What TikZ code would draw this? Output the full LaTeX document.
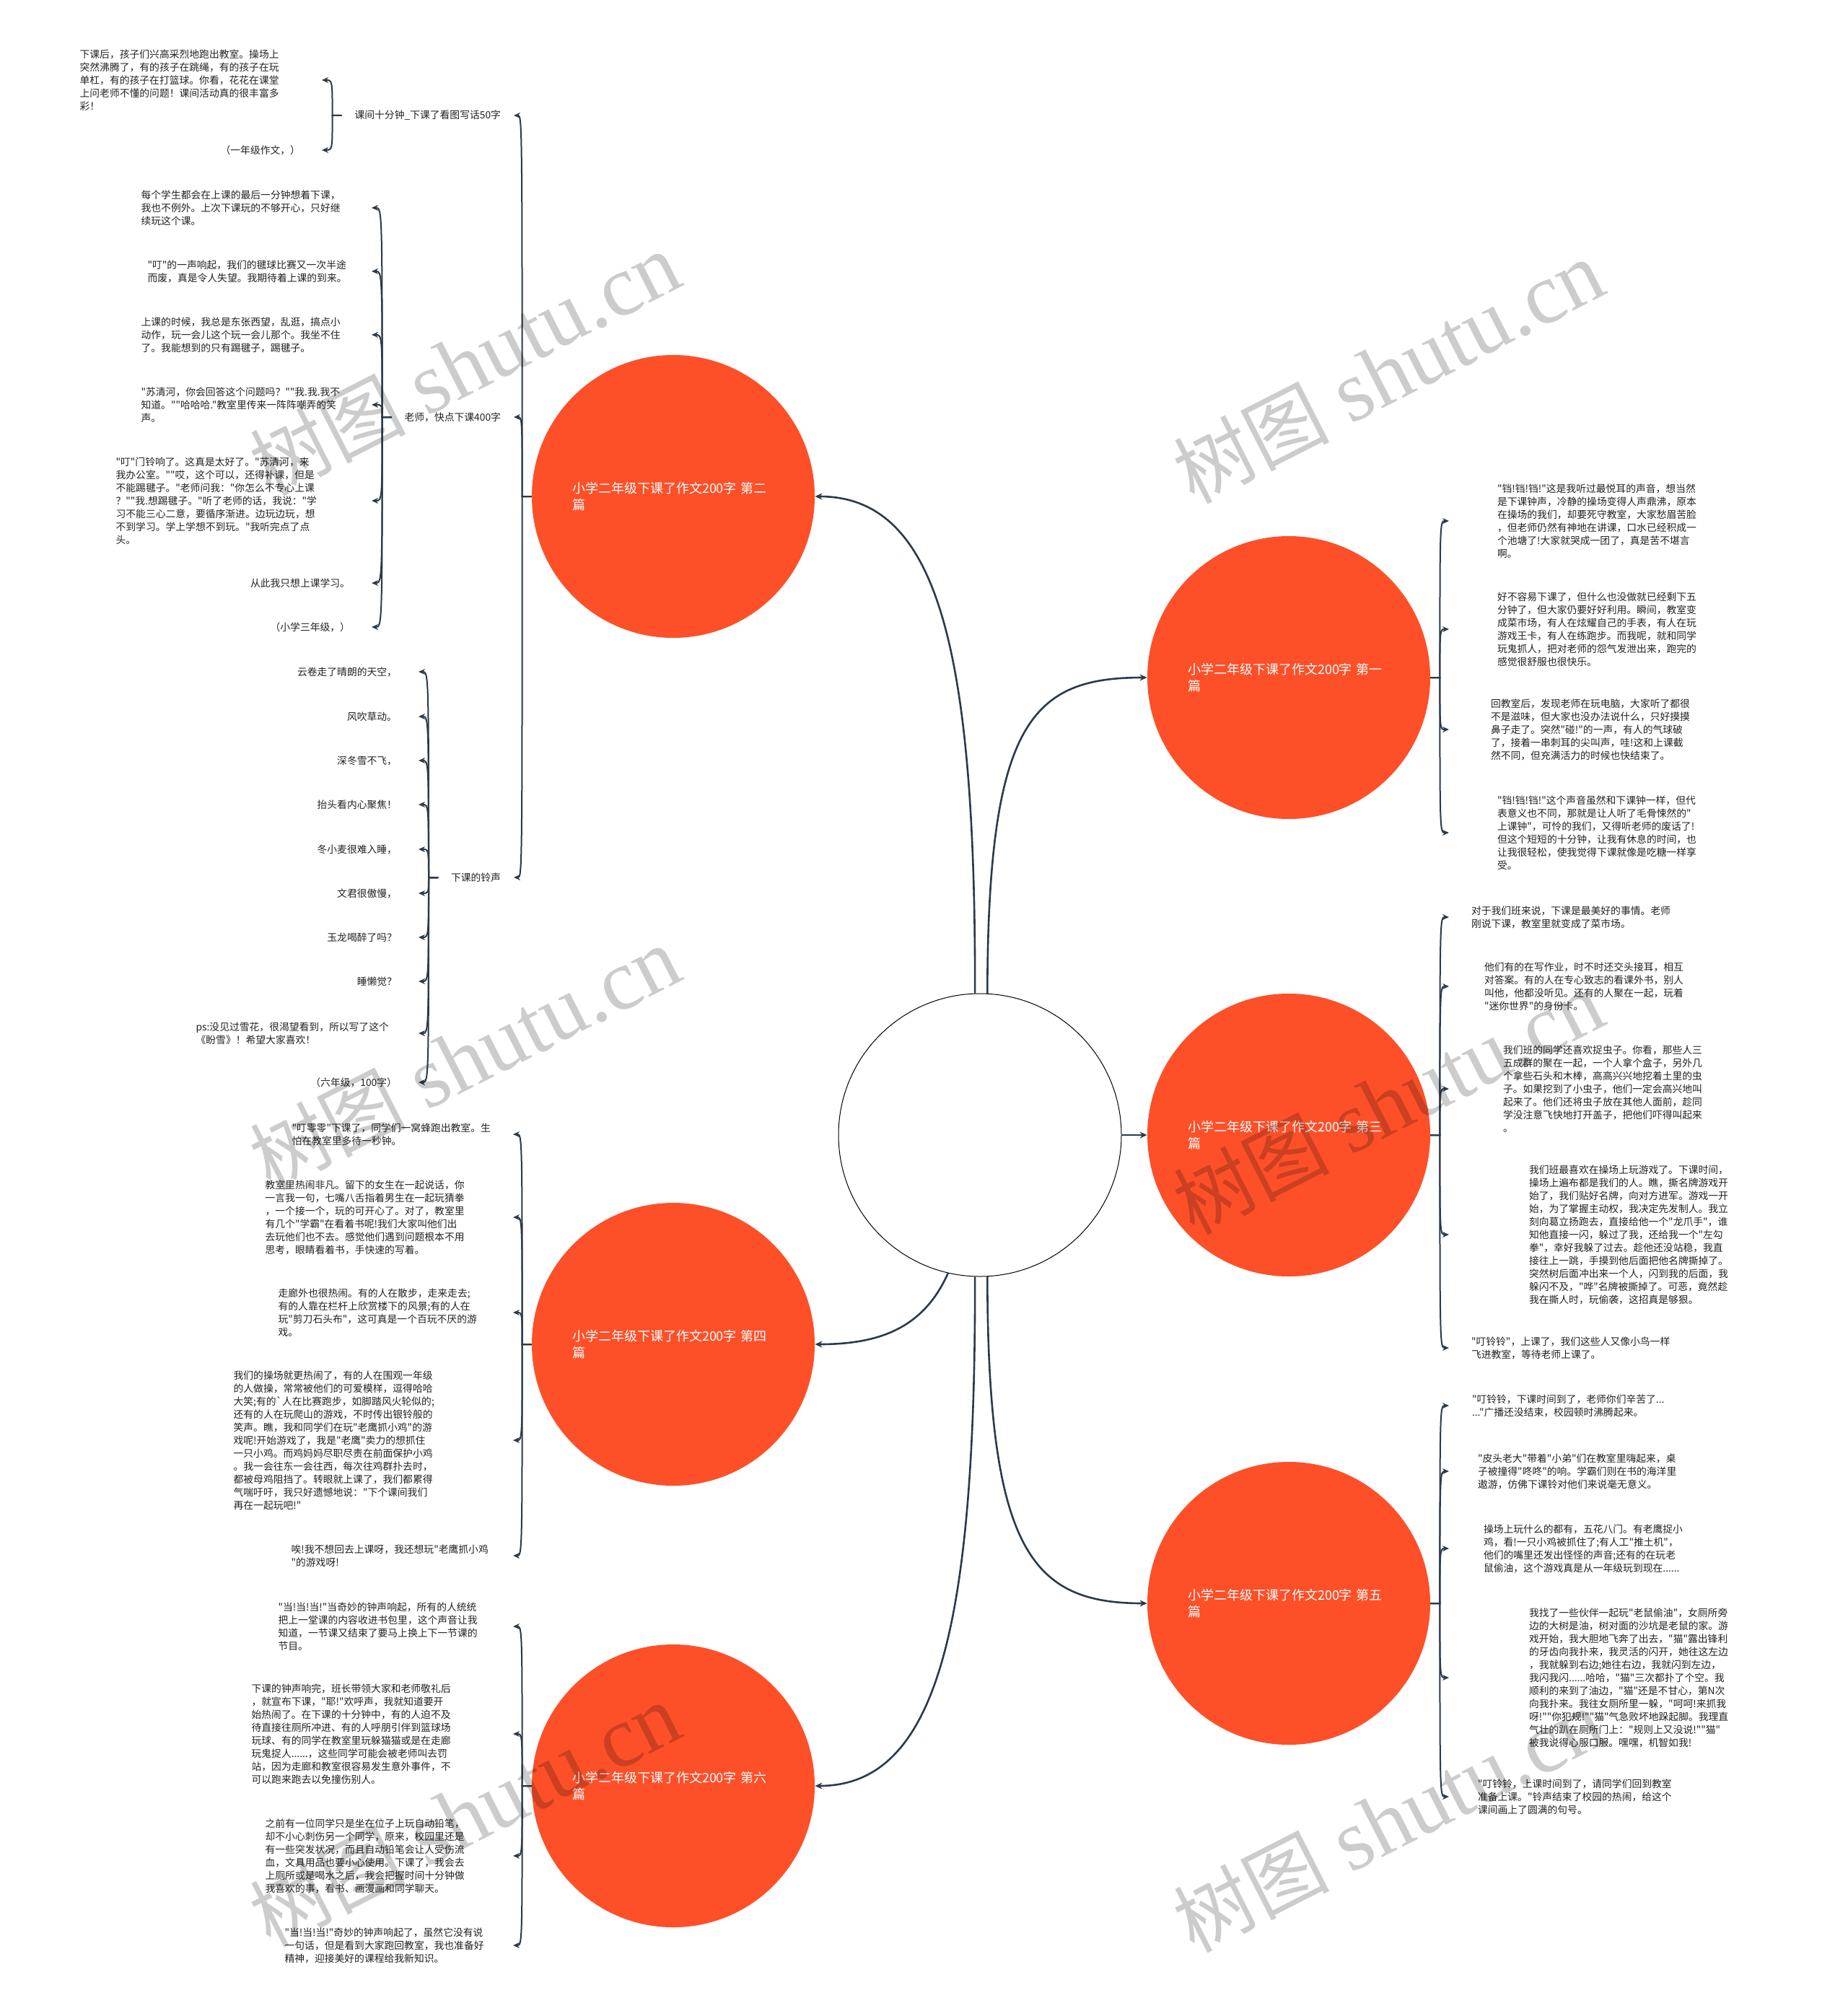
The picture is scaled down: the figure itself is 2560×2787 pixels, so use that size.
\documentclass[tikz,border=0pt]{standalone}
\usepackage{fontspec}
\newfontfamily\cjk{Noto Sans CJK SC}
\newfontfamily\wmlat{Liberation Serif}
\usetikzlibrary{arrows.meta}
\definecolor{conn}{HTML}{2B3A4A}
\definecolor{orng}{RGB}{253,80,41}
\definecolor{txt}{HTML}{222222}
\newcommand\lfnt{\cjk\fontsize{6.9}{9}\selectfont}
\newcommand\cfnt{\cjk\fontsize{9}{11.5}\selectfont}
\newcommand\kidL[2]{\draw[brk] (#1.west) -- ++(-13,0) coordinate (tmp) .. controls (tmp |- #2.east) and (tmp |- #2.east) .. (#2.east);}
\newcommand\kidR[2]{\draw[brk] (#1.east) -- ++(13,0) coordinate (tmp) .. controls (tmp |- #2.west) and (tmp |- #2.west) .. (#2.west);}
\newcommand\wmtext{{\cjk\fontsize{54}{60}\selectfont 树图}\hspace{14pt}{\wmlat\fontsize{60}{60}\selectfont shutu.cn}}
\begin{document}
\begin{tikzpicture}[x=0.5pt,y=-0.5pt,
  leaf/.style={font=\lfnt, text=txt, inner sep=0pt},
  pl/.style={leaf, anchor=east, align=left, text width=#1},
  sl/.style={leaf, anchor=east, outer xsep=15pt},
  pr/.style={leaf, anchor=west, align=left, outer xsep=#1},
  lab/.style={leaf, anchor=east, outer xsep=9pt},
  circ/.style={circle, fill=orng, minimum size=196pt, inner sep=0pt, text=white, font=\cfnt, align=left, text width=140pt},
  hub/.style={circle, draw=black, line width=0.5pt, fill=white, minimum size=196pt, inner sep=0pt},
  main/.style={draw=conn, line width=1.3pt, -{Stealth[length=5pt,width=4.5pt]}},
  brk/.style={draw=conn, line width=1pt, -{Stealth[length=4.5pt,width=4pt]}},
  wm/.style={rotate=27, text=black, text opacity=0.2, inner sep=0pt}]
\useasboundingbox (0,0) rectangle (2560,2787);
\fill[white] (0,0) rectangle (2560,2787);

% central and main nodes
\node[hub] (hub) at (1358,1573) {};
\node[circ] (n2) at (933,688) {小学二年级下课了作文200字~第二\\篇};
\node[circ] (n1) at (1786,939) {小学二年级下课了作文200字~第一\\篇};
\node[circ] (n3) at (1786,1573) {小学二年级下课了作文200字~第三\\篇};
\node[circ] (n4) at (933,1863) {小学二年级下课了作文200字~第四\\篇};
\node[circ] (n5) at (1786,2222) {小学二年级下课了作文200字~第五\\篇};
\node[circ] (n6) at (933,2475) {小学二年级下课了作文200字~第六\\篇};

\draw[main] (hub.92) .. controls (1352,900) and (1300,688) .. (n2.east);
\draw[main] (hub.87) .. controls (1369,1000) and (1430,939) .. (n1.west);
\draw[main] (hub.east) -- (n3.west);
\draw[main] (hub.257) .. controls (1280,1840) and (1220,1863) .. (n4.east);
\draw[main] (hub.273) .. controls (1369,2150) and (1430,2222) .. (n5.west);
\draw[main] (hub.268) .. controls (1352,2250) and (1300,2475) .. (n6.east);

% ---- 第二篇 ----
\node[lab] (a1) at (712,160) {课间十分钟\_下课了看图写话50字};
\node[lab] (a2) at (712,578) {老师，快点下课400字};
\node[lab] (a3) at (712,1216) {下课的铃声};
\kidL{n2}{a1}\kidL{n2}{a2}\kidL{n2}{a3}

\node[pl=167.5pt] (a1a) at (446,111) {下课后，孩子们兴高采烈地跑出教室。操场上\\突然沸腾了，有的孩子在跳绳，有的孩子在玩\\单杠，有的孩子在打篮球。你看，花花在课堂\\上问老师不懂的问题！课间活动真的很丰富多\\彩！};
\node[sl] (a1b) at (446,208) {（一年级作文，）};
\kidL{a1}{a1a}\kidL{a1}{a1b}

\node[pl=159.5pt] (a2a) at (515,288) {每个学生都会在上课的最后一分钟想着下课，\\我也不例外。上次下课玩的不够开心，只好继\\续玩这个课。};
\node[pl=155pt] (a2b) at (515,376) {"叮"的一声响起，我们的毽球比赛又一次半途\\而废，真是令人失望。我期待着上课的到来。};
\node[pl=159.5pt] (a2c) at (515,464) {上课的时候，我总是东张西望，乱逛，搞点小\\动作，玩一会儿这个玩一会儿那个。我坐不住\\了。我能想到的只有踢毽子，踢毽子。};
\node[pl=159.5pt] (a2d) at (515,561) {"苏清河，你会回答这个问题吗？""我.我.我不\\知道。""哈哈哈."教室里传来一阵阵嘲弄的笑\\声。};
\node[pl=177pt] (a2e) at (515,694) {"叮"门铃响了。这真是太好了。"苏清河，来\\我办公室。""哎，这个可以，还得补课，但是\\不能踢毽子。"老师问我："你怎么不专心上课\\？""我.想踢毽子。"听了老师的话，我说："学\\习不能三心二意，要循序渐进。边玩边玩，想\\不到学习。学上学想不到玩。"我听完点了点\\头。};
\node[sl] (a2f) at (515,808) {从此我只想上课学习。};
\node[sl] (a2g) at (515,869) {（小学三年级，）};
\kidL{a2}{a2a}\kidL{a2}{a2b}\kidL{a2}{a2c}\kidL{a2}{a2d}\kidL{a2}{a2e}\kidL{a2}{a2f}\kidL{a2}{a2g}

\node[sl] (a3a) at (580,931) {云卷走了晴朗的天空，};
\node[sl] (a3b) at (580,993) {风吹草动。};
\node[sl] (a3c) at (580,1054) {深冬雪不飞，};
\node[sl] (a3d) at (580,1115) {抬头看内心聚焦！};
\node[sl] (a3e) at (580,1177) {冬小麦很难入睡，};
\node[sl] (a3f) at (580,1238) {文君很傲慢，};
\node[sl] (a3g) at (580,1299) {玉龙喝醉了吗？};
\node[sl] (a3h) at (580,1360) {睡懒觉？};
\node[pl=154pt] (a3i) at (580,1432) {ps:没见过雪花，很渴望看到，所以写了这个\\《盼雪》！希望大家喜欢！};
\node[sl] (a3j) at (580,1500) {（六年级，100字）};
\kidL{a3}{a3a}\kidL{a3}{a3b}\kidL{a3}{a3c}\kidL{a3}{a3d}\kidL{a3}{a3e}\kidL{a3}{a3f}\kidL{a3}{a3g}\kidL{a3}{a3h}\kidL{a3}{a3i}\kidL{a3}{a3j}

% ---- 第四篇 ----
\node[pl=153pt] (b1) at (711,1572) {"叮零零"下课了，同学们一窝蜂跑出教室。生\\怕在教室里多待一秒钟。};
\node[pl=171.5pt] (b2) at (711,1687) {教室里热闹非凡。留下的女生在一起说话，你\\一言我一句，七嘴八舌指着男生在一起玩猜拳\\，一个接一个，玩的可开心了。对了，教室里\\有几个"学霸"在看着书呢!我们大家叫他们出\\去玩他们也不去。感觉他们遇到问题根本不用\\思考，眼睛看着书，手快速的写着。};
\node[pl=162.5pt] (b3) at (711,1819) {走廊外也很热闹。有的人在散步，走来走去;\\有的人靠在栏杆上欣赏楼下的风景;有的人在\\玩"剪刀石头布"，这可真是一个百玩不厌的游\\戏。};
\node[pl=193.5pt] (b4) at (711,1996) {我们的操场就更热闹了，有的人在围观一年级\\的人做操，常常被他们的可爱模样，逗得哈哈\\大笑;有的`人在比赛跑步，如脚踏风火轮似的;\\还有的人在玩爬山的游戏，不时传出银铃般的\\笑声。瞧，我和同学们在玩"老鹰抓小鸡"的游\\戏呢!开始游戏了，我是"老鹰"卖力的想抓住\\一只小鸡。而鸡妈妈尽职尽责在前面保护小鸡\\。我一会往东一会往西，每次往鸡群扑去时，\\都被母鸡阻挡了。转眼就上课了，我们都累得\\气喘吁吁，我只好遗憾地说："下个课间我们\\再在一起玩吧!"};
\node[pl=153.5pt] (b5) at (711,2156) {唉!我不想回去上课呀，我还想玩"老鹰抓小鸡\\"的游戏呀!};
\kidL{n4}{b1}\kidL{n4}{b2}\kidL{n4}{b3}\kidL{n4}{b4}\kidL{n4}{b5}

% ---- 第六篇 ----
\node[pl=162.5pt] (c1) at (711,2254) {"当!当!当!"当奇妙的钟声响起，所有的人统统\\把上一堂课的内容收进书包里，这个声音让我\\知道，一节课又结束了要马上换上下一节课的\\节目。};
\node[pl=181pt] (c2) at (711,2403) {下课的钟声响完，班长带领大家和老师敬礼后\\，就宣布下课，"耶!"欢呼声，我就知道要开\\始热闹了。在下课的十分钟中，有的人迫不及\\待直接往厕所冲进、有的人呼朋引伴到篮球场\\玩球、有的同学在教室里玩躲猫猫或是在走廊\\玩鬼捉人......，这些同学可能会被老师叫去罚\\站，因为走廊和教室很容易发生意外事件，不\\可以跑来跑去以免撞伤别人。};
\node[pl=171.5pt] (c3) at (711,2572) {之前有一位同学只是坐在位子上玩自动铅笔，\\却不小心刺伤另一个同学，原来，校园里还是\\有一些突发状况，而且自动铅笔会让人受伤流\\血，文具用品也要小心使用。下课了，我会去\\上厕所或是喝水之后，我会把握时间十分钟做\\我喜欢的事，看书、画漫画和同学聊天。};
\node[pl=158pt] (c4) at (711,2696) {"当!当!当!"奇妙的钟声响起了，虽然它没有说\\一句话，但是看到大家跑回教室，我也准备好\\精神，迎接美好的课程给我新知识。};
\kidL{n6}{c1}\kidL{n6}{c2}\kidL{n6}{c3}\kidL{n6}{c4}

% ---- 第一篇 ----
\node[pr=33.5pt] (r1a) at (2008,722) {"铛!铛!铛!"这是我听过最悦耳的声音，想当然\\是下课钟声，冷静的操场变得人声鼎沸，原本\\在操场的我们，却要死守教室，大家愁眉苦脸\\，但老师仍然有神地在讲课，口水已经积成一\\个池塘了!大家就哭成一团了，真是苦不堪言\\啊。};
\node[pr=33.5pt] (r1b) at (2008,872) {好不容易下课了，但什么也没做就已经剩下五\\分钟了，但大家仍要好好利用。瞬间，教室变\\成菜市场，有人在炫耀自己的手表，有人在玩\\游戏王卡，有人在练跑步。而我呢，就和同学\\玩鬼抓人，把对老师的怨气发泄出来，跑完的\\感觉很舒服也很快乐。};
\node[pr=29pt] (r1c) at (2008,1011) {回教室后，发现老师在玩电脑，大家听了都很\\不是滋味，但大家也没办法说什么，只好摸摸\\鼻子走了。突然"碰!"的一声，有人的气球破\\了，接着一串刺耳的尖叫声，哇!这和上课截\\然不同，但充满活力的时候也快结束了。};
\node[pr=33.5pt] (r1d) at (2008,1154) {"铛!铛!铛!"这个声音虽然和下课钟一样，但代\\表意义也不同，那就是让人听了毛骨悚然的"\\上课钟"，可怜的我们，又得听老师的废话了!\\但这个短短的十分钟，让我有休息的时间，也\\让我很轻松，使我觉得下课就像是吃糖一样享\\受。};
\kidR{n1}{r1a}\kidR{n1}{r1b}\kidR{n1}{r1c}\kidR{n1}{r1d}

% ---- 第三篇 ----
\node[pr=15.5pt] (r3a) at (2008,1271) {对于我们班来说，下课是最美好的事情。老师\\刚说下课，教室里就变成了菜市场。};
\node[pr=24.5pt] (r3b) at (2008,1367) {他们有的在写作业，时不时还交头接耳，相互\\对答案。有的人在专心致志的看课外书，别人\\叫他，他都没听见。还有的人聚在一起，玩着\\"迷你世界"的身份卡。};
\node[pr=37.5pt] (r3c) at (2008,1509) {我们班的同学还喜欢捉虫子。你看，那些人三\\五成群的聚在一起，一个人拿个盒子，另外几\\个拿些石头和木棒，高高兴兴地挖着土里的虫\\子。如果挖到了小虫子，他们一定会高兴地叫\\起来了。他们还将虫子放在其他人面前，趁同\\学没注意飞快地打开盖子，把他们吓得叫起来\\。};
\node[pr=55.5pt] (r3d) at (2008,1711) {我们班最喜欢在操场上玩游戏了。下课时间，\\操场上遍布都是我们的人。瞧，撕名牌游戏开\\始了，我们贴好名牌，向对方进军。游戏一开\\始，为了掌握主动权，我决定先发制人。我立\\刻向葛立扬跑去，直接给他一个"龙爪手"，谁\\知他直接一闪，躲过了我，还给我一个"左勾\\拳"，幸好我躲了过去。趁他还没站稳，我直\\接往上一跳，手摸到他后面把他名牌撕掉了。\\突然树后面冲出来一个人，闪到我的后面，我\\躲闪不及，"哗"名牌被撕掉了。可恶，竟然趁\\我在撕人时，玩偷袭，这招真是够狠。};
\node[pr=15.5pt] (r3e) at (2008,1868) {"叮铃铃"，上课了，我们这些人又像小鸟一样\\飞进教室，等待老师上课了。};
\kidR{n3}{r3a}\kidR{n3}{r3b}\kidR{n3}{r3c}\kidR{n3}{r3d}\kidR{n3}{r3e}

% ---- 第五篇 ----
\node[pr=16pt] (r5a) at (2008,1948) {"叮铃铃，下课时间到了，老师你们辛苦了...\\..."广播还没结束，校园顿时沸腾起来。};
\node[pr=20pt] (r5b) at (2008,2039) {"皮头老大"带着"小弟"们在教室里嗨起来，桌\\子被撞得"咚咚"的响。学霸们则在书的海洋里\\遨游，仿佛下课铃对他们来说毫无意义。};
\node[pr=24pt] (r5c) at (2008,2146) {操场上玩什么的都有，五花八门。有老鹰捉小\\鸡，看!一只小鸡被抓住了;有人工"推土机"，\\他们的嘴里还发出怪怪的声音;还有的在玩老\\鼠偷油，这个游戏真是从一年级玩到现在......};
\node[pr=55.5pt] (r5d) at (2008,2325) {我找了一些伙伴一起玩"老鼠偷油"，女厕所旁\\边的大树是油，树对面的沙坑是老鼠的家。游\\戏开始，我大胆地飞奔了出去，"猫"露出锋利\\的牙齿向我扑来，我灵活的闪开，她往这左边\\，我就躲到右边;她往右边，我就闪到左边，\\我闪我闪......哈哈，"猫"三次都扑了个空。我\\顺利的来到了油边，"猫"还是不甘心，第N次\\向我扑来。我往女厕所里一躲，"呵呵!来抓我\\呀!""你犯规!""猫"气急败坏地跺起脚。我理直\\气壮的趴在厕所门上："规则上又没说!""猫"\\被我说得心服口服。嘿嘿，机智如我!};
\node[pr=20pt] (r5e) at (2008,2490) {"叮铃铃，上课时间到了，请同学们回到教室\\准备上课。"铃声结束了校园的热闹，给这个\\课间画上了圆满的句号。};
\kidR{n5}{r5a}\kidR{n5}{r5b}\kidR{n5}{r5c}\kidR{n5}{r5d}\kidR{n5}{r5e}

% ---- watermarks ----
\node[wm] (w1) at (644,505) {\wmtext};
\node[wm] (w2) at (1924,516) {\wmtext};
\node[wm] (w3) at (644,1467) {\wmtext};
\node[wm] (w4) at (1924,1529) {\wmtext};
\node[wm] (w5) at (644,2516) {\wmtext};
\node[wm] (w6) at (1924,2524) {\wmtext};
\end{tikzpicture}
\end{document}
